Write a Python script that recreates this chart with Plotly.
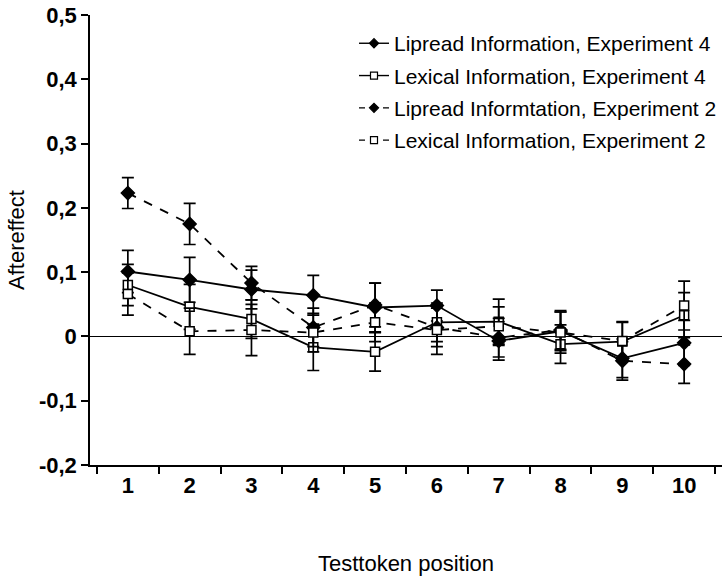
import plotly.graph_objects as go

positions = ["1", "2", "3", "4", "5", "6", "7", "8", "9", "10"]

lipread_e4 = [0.101, 0.088, 0.073, 0.064, 0.045, 0.048, -0.007, 0.008, -0.034, -0.010]
lipread_e4_err = [0.033, 0.035, 0.030, 0.031, 0.038, 0.024, 0.030, 0.030, 0.030, 0.035]

lexical_e4 = [0.080, 0.046, 0.027, -0.017, -0.024, 0.022, 0.023, -0.012, -0.008, 0.033]
lexical_e4_err = [0.032, 0.035, 0.030, 0.036, 0.030, 0.030, 0.035, 0.030, 0.030, 0.035]

lipread_e2 = [0.223, 0.175, 0.083, 0.014, 0.049, 0.014, -0.002, 0.010, -0.038, -0.043]
lipread_e2_err = [0.024, 0.032, 0.026, 0.030, 0.034, 0.030, 0.030, 0.030, 0.030, 0.030]

lexical_e2 = [0.066, 0.008, 0.010, 0.006, 0.022, 0.010, 0.016, 0.006, -0.007, 0.048]
lexical_e2_err = [0.033, 0.036, 0.040, 0.030, 0.030, 0.038, 0.030, 0.032, 0.030, 0.038]

y_tickvals = [-0.2, -0.1, 0, 0.1, 0.2, 0.3, 0.4, 0.5]
y_ticktext = ["-0,2", "-0,1", "0", "0,1", "0,2", "0,3", "0,4", "0,5"]

series = [
    ("Lipread Information, Experiment 4", lipread_e4, lipread_e4_err, "solid", "diamond", "black"),
    ("Lexical Information, Experiment 4", lexical_e4, lexical_e4_err, "solid", "square", "white"),
    ("Lipread Informtation, Experiment 2", lipread_e2, lipread_e2_err, "dash", "diamond", "black"),
    ("Lexical Information, Experiment 2", lexical_e2, lexical_e2_err, "dash", "square", "white"),
]

fig = go.Figure()
for name, vals, errs, dash, sym, fill in series:
    fig.add_trace(go.Scatter(
        x=positions, y=vals, name=name, mode="lines+markers", showlegend=False,
        line=dict(color="black", width=1.8, dash=dash),
        marker=dict(symbol=sym, size=10 if sym == "diamond" else 9, color=fill,
                    line=dict(color="black", width=1.5)),
        error_y=dict(type="data", array=errs, visible=True, color="black",
                     thickness=1.7, width=6),
    ))

# legend-only entries with small markers, as in the reference key
for i, (name, vals, errs, dash, sym, fill) in enumerate(series):
    fig.add_trace(go.Scatter(
        x=[None], y=[None], name=name, mode="lines+markers",
        legendgroup=f"g{i}",
        line=dict(color="black", width=1.4, dash="solid" if dash == "solid" else "6px,6px"),
        marker=dict(symbol=sym, size=7, color=fill, line=dict(color="black", width=1.2)),
    ))

font_family = "Liberation Sans, Arial, sans-serif"

fig.update_layout(
    width=728, height=580,
    margin=dict(l=90, r=6, t=15, b=115),
    plot_bgcolor="white", paper_bgcolor="white",
    font=dict(family=font_family, color="black", size=21),
    showlegend=True,
    legend=dict(x=1.0, y=0.982, xanchor="right", yanchor="top",
                bgcolor="rgba(0,0,0,0)", font=dict(size=21, family=font_family),
                traceorder="grouped", tracegroupgap=2, itemwidth=30),
    xaxis=dict(
        type="category", tickson="boundaries", automargin=False,
        showline=True, linecolor="black", linewidth=1.5,
        ticks="outside", ticklen=7, tickcolor="black", tickwidth=1.5,
        showgrid=False, zeroline=False,
        tickfont=dict(size=22, family=font_family, weight="bold"),
        title=dict(text="Testtoken position", font=dict(size=22), standoff=58),
    ),
    yaxis=dict(
        range=[-0.2, 0.5], automargin=False,
        tickvals=y_tickvals, ticktext=y_ticktext,
        showline=True, linecolor="black", linewidth=1.5,
        ticks="outside", ticklen=7, tickcolor="black", tickwidth=1.5,
        showgrid=False,
        zeroline=True, zerolinecolor="black", zerolinewidth=1.3,
        tickfont=dict(size=22, family=font_family, weight="bold"),
        title=dict(text="Aftereffect", font=dict(size=22), standoff=8),
    ),
)

fig.write_html("out.html")
